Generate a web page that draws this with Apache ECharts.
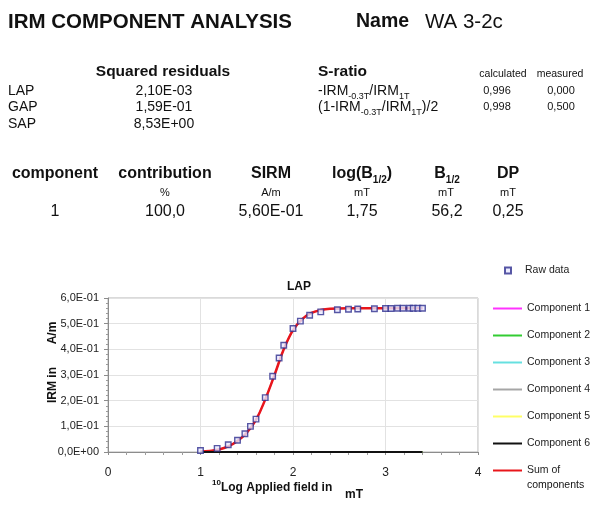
<!DOCTYPE html>
<html>
<head>
<meta charset="utf-8">
<script src="https://cdn.jsdelivr.net/npm/echarts@6/dist/echarts.min.js"></script>
<style>
html,body{margin:0;padding:0;background:#fff;}
#chart{width:615px;height:508px;}
</style>
</head>
<body>
<div id="chart"></div>
<script>
// ---- data ----
var rawX = [1.00,1.18,1.30,1.40,1.48,1.54,1.60,1.70,1.78,1.85,1.90,2.00,2.08,2.18,2.30,2.48,2.60,2.70,2.88,3.00,3.06,3.13,3.19,3.26,3.30,3.35,3.40];
var rawY = [0.006,0.014,0.028,0.046,0.071,0.100,0.128,0.212,0.295,0.366,0.416,0.481,0.510,0.533,0.546,0.554,0.556,0.557,0.558,0.559,0.559,0.560,0.560,0.560,0.560,0.560,0.560];
var sumX = [1.0,1.1,1.2,1.3,1.4,1.5,1.6,1.7,1.8,1.9,2.0,2.1,2.2,2.3,2.4,2.6,3.0,3.4];
var sumY = [0.002,0.004,0.010,0.022,0.043,0.075,0.125,0.205,0.300,0.400,0.475,0.518,0.542,0.553,0.558,0.560,0.560,0.560];
var comp1Y = sumY;
var zeroX = [1.0,3.4];
var zeroY = [0,0];
var yTickLabels = ['0,0E+00','1,0E-01','2,0E-01','3,0E-01','4,0E-01','5,0E-01','6,0E-01'];
var xTickLabels = ['0','1','2','3','4'];
var legendNames = ['Component 1','Component 2','Component 3','Component 4','Component 5','Component 6','Sum of components'];

function pairs(xs, ys){ return xs.map(function(x,i){ return [x, ys[i]]; }); }

var FF = '"Liberation Sans", Arial, sans-serif';
var chart = echarts.init(document.getElementById('chart'), null, {renderer:'canvas'});

function txt(text, x, y, size, opt){
  opt = opt || {};
  return {
    type:'text', x:x, y:y, silent:true,
    style:{
      text:text, fontFamily:FF, fontSize:size, fontWeight:opt.bold?'bold':'normal',
      fill:opt.color||'#111', align:opt.align||'left', verticalAlign:'middle',
      rich:opt.rich
    }
  };
}
var subRich = function(size){ return {
  s:{fontSize:Math.round(size*0.62), verticalAlign:'bottom', lineHeight:size+6, fontFamily:FF},
  sb:{fontSize:Math.round(size*0.62), verticalAlign:'bottom', lineHeight:size+6, fontFamily:FF, fontWeight:'bold'}
};};

var graphics = [
  txt('IRM COMPONENT ANALYSIS', 8, 22, 20.5, {bold:true}),
  txt('Name', 356, 22, 19.5, {bold:true}),
  txt('WA 3-2c', 425, 22, 20.5),
  txt('Squared residuals', 163, 72, 15.5, {bold:true, align:'center'}),
  txt('S-ratio', 318, 72, 15.5, {bold:true}),
  txt('calculated', 503, 74, 10.5, {align:'center'}),
  txt('measured', 560, 74, 10.5, {align:'center'}),
  txt('LAP', 8, 91, 14), txt('2,10E-03', 164, 91, 14, {align:'center'}),
  txt('GAP', 8, 107, 14), txt('1,59E-01', 164, 107, 14, {align:'center'}),
  txt('SAP', 8, 124, 14), txt('8,53E+00', 164, 124, 14, {align:'center'}),
  txt('-IRM{s|-0.3T}/IRM{s|1T}', 318, 91, 14, {rich:subRich(14)}),
  txt('(1-IRM{s|-0.3T}/IRM{s|1T})/2', 318, 107, 14, {rich:subRich(14)}),
  txt('0,996', 497, 91, 11, {align:'center'}),
  txt('0,000', 561, 91, 11, {align:'center'}),
  txt('0,998', 497, 107, 11, {align:'center'}),
  txt('0,500', 561, 107, 11, {align:'center'}),
  txt('component', 55, 174, 16, {bold:true, align:'center'}),
  txt('contribution', 165, 174, 16, {bold:true, align:'center'}),
  txt('SIRM', 271, 174, 16, {bold:true, align:'center'}),
  txt('log(B{sb|1/2})', 362, 174, 16, {bold:true, align:'center', rich:subRich(16)}),
  txt('B{sb|1/2}', 447, 174, 16, {bold:true, align:'center', rich:subRich(16)}),
  txt('DP', 508, 174, 16, {bold:true, align:'center'}),
  txt('%', 165, 193, 11, {align:'center'}),
  txt('A/m', 271, 193, 11, {align:'center'}),
  txt('mT', 362, 193, 11, {align:'center'}),
  txt('mT', 446, 193, 11, {align:'center'}),
  txt('mT', 508, 193, 11, {align:'center'}),
  txt('1', 55, 212, 16, {align:'center'}),
  txt('100,0', 165, 212, 16, {align:'center'}),
  txt('5,60E-01', 271, 212, 16, {align:'center'}),
  txt('1,75', 362, 212, 16, {align:'center'}),
  txt('56,2', 447, 212, 16, {align:'center'}),
  txt('0,25', 508, 212, 16, {align:'center'}),
  // axis names
  txt('{p|10}Log Applied field in', 212, 488, 12, {bold:true, rich:{p:{fontSize:8, fontWeight:'bold', verticalAlign:'top', lineHeight:18, fontFamily:FF}}}),
  txt('mT', 345, 495, 12, {bold:true}),
  {type:'text', x:53, y:385, rotation:Math.PI/2, silent:true,
    style:{text:'IRM in', fontFamily:FF, fontSize:12, fontWeight:'bold', fill:'#111', align:'center', verticalAlign:'middle'}},
  {type:'text', x:53, y:333, rotation:Math.PI/2, silent:true,
    style:{text:'A/m', fontFamily:FF, fontSize:12, fontWeight:'bold', fill:'#111', align:'center', verticalAlign:'middle'}},
  txt('components', 527, 485, 10.5)
];

var lineColors = ['#ff33ff','#33cc33','#66e0e0','#a6a6a6','#ffff66','#111111','#e8161b'];

var series = [
  {name:'Raw data', type:'scatter', data:pairs(rawX, rawY), symbol:'rect', symbolSize:5.5, z:5,
   itemStyle:{color:'#e8e8ff', borderColor:'#2e2e8f', borderWidth:1.4}},
  {name:legendNames[0], type:'line', data:pairs(sumX, comp1Y), smooth:0.4, symbol:'none', lineStyle:{color:lineColors[0], width:1.5}, itemStyle:{color:lineColors[0]}, z:2}
];
for (var k=1;k<=5;k++){
  series.push({name:legendNames[k], type:'line', data:pairs(zeroX, zeroY), symbol:'none',
    lineStyle:{color:lineColors[k], width:(k===5?2:1.5)}, itemStyle:{color:lineColors[k]}, z:(k===5?4:2)});
}
series.push({name:legendNames[6], type:'line', data:pairs(sumX, sumY), smooth:0.4, symbol:'none',
  lineStyle:{color:lineColors[6], width:2.5}, itemStyle:{color:lineColors[6]}, z:3});

var option = {
  animation:false,
  backgroundColor:'#fff',
  title:{text:'LAP', left:294, top:276, textAlign:'center', textStyle:{fontFamily:FF, fontSize:12, fontWeight:'bold', color:'#111'}},
  grid:{left:108, top:298, width:370, height:154, show:true, borderWidth:1, borderColor:'#b4b4b4', backgroundColor:'transparent'},
  xAxis:{type:'value', min:0, max:4, interval:1,
    axisLine:{show:true, lineStyle:{color:'#8c8c8c'}},
    axisTick:{show:true, inside:false, length:3, lineStyle:{color:'#8c8c8c'}},
    minorTick:{show:true, splitNumber:5, length:3, lineStyle:{color:'#9c9c9c'}},
    splitLine:{show:true, lineStyle:{color:'#e2e2e2', width:1}},
    axisLabel:{fontFamily:FF, fontSize:12, color:'#222', margin:15, formatter:function(v,i){return xTickLabels[i];}}
  },
  yAxis:{type:'value', min:0, max:0.6, interval:0.1,
    axisLine:{show:true, lineStyle:{color:'#8c8c8c'}},
    axisTick:{show:true, length:4, lineStyle:{color:'#8c8c8c'}},
    minorTick:{show:true, splitNumber:5, length:2, lineStyle:{color:'#9c9c9c'}},
    splitLine:{show:true, lineStyle:{color:'#e2e2e2', width:1}},
    axisLabel:{fontFamily:FF, fontSize:11, color:'#222', margin:9, formatter:function(v,i){return yTickLabels[i];}}
  },
  legend:[
    {data:['Raw data'], orient:'vertical', left:504, top:265, padding:0, itemWidth:6, itemHeight:6, itemGap:10,
     textStyle:{fontFamily:FF, fontSize:10.5, color:'#222', padding:[0,0,0,9]}},
    {data:legendNames, orient:'vertical', left:493, top:303, padding:0, icon:'rect', itemWidth:29, itemHeight:2, itemGap:16,
     formatter:function(n){ return n==='Sum of components' ? 'Sum of' : n; },
     textStyle:{fontFamily:FF, fontSize:10.5, color:'#222'}}
  ],
  graphic:graphics,
  series:series
};
chart.setOption(option);
</script>
</body>
</html>
